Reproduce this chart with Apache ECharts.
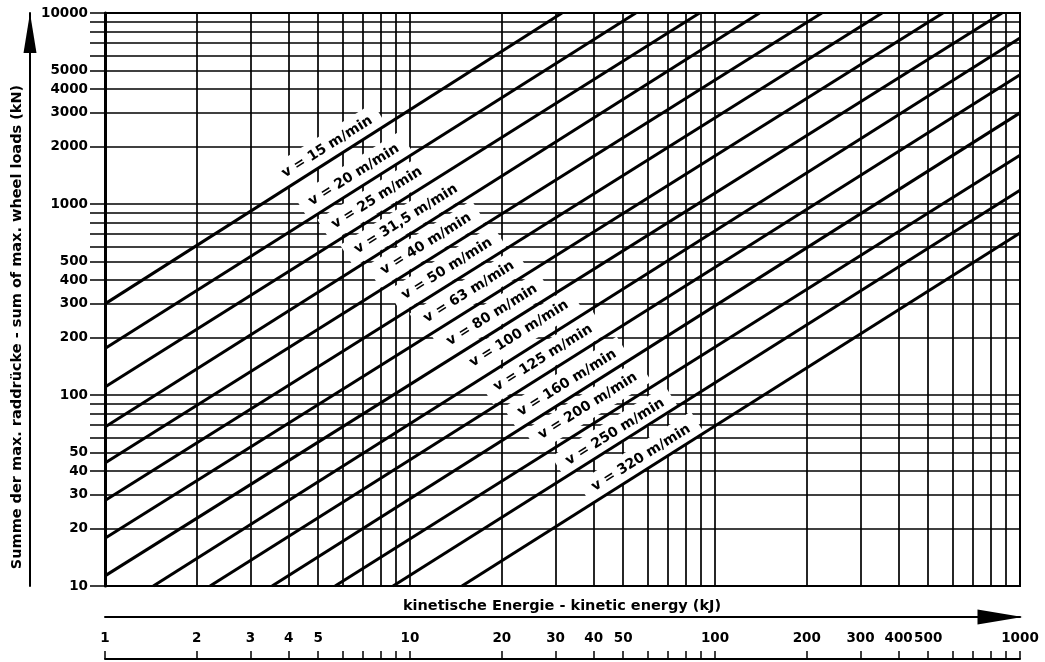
<!DOCTYPE html>
<html>
<head>
<meta charset="utf-8">
<script src="https://cdn.jsdelivr.net/npm/echarts@6/dist/echarts.min.js"></script>
<style>
html,body{margin:0;padding:0;background:#fff;}
#chart{width:1045px;height:662px;}
</style>
</head>
<body>
<div id="chart"></div>
<script>
// ---- data ----
const xGrid = [1,2,3,4,5,6,7,8,9,10,20,30,40,50,60,70,80,90,100,200,300,400,500,600,700,800,900,1000];
const xLabels = [1,2,3,4,5,10,20,30,40,50,100,200,300,400,500,1000];
const yGrid = [10,20,30,40,50,60,70,80,90,100,200,300,400,500,600,700,800,900,1000,2000,3000,4000,5000,6000,7000,8000,9000,10000];
const yLabels = [10,20,30,40,50,100,200,300,400,500,1000,2000,3000,4000,5000,10000];
const speeds = ['15','20','25','31,5','40','50','63','80','100','125','160','200','250','320'];
const lineStart = [[1,300],[1,175],[1,110],[1,68],[1,44],[1,28],[1,17.8],[1,11.3],[1.44,10],[2.21,10],[3.53,10],[5.68,10],[8.8,10],[14.8,10]];
const lineEnd = [[31.5,10000],[55,10000],[89,10000],[140,10000],[224,10000],[353,10000],[559,10000],[873,10000],[1000,7400],[1000,4750],[1000,3000],[1000,1800],[1000,1180],[1000,705]];
const labelAt = [[5.35,1988],[6.55,1418],[7.79,1075],[9.70,834],[11.28,617],[13.22,457],[15.61,346],[18.57,262],[22.78,209],[27.3,156],[32.7,115.6],[38.3,87.6],[47.0,64.0],[57.2,46.8]];
const xTitle = 'kinetische Energie - kinetic energy (kJ)';
const yTitle = 'Summe der max. raddrücke - sum of max. wheel loads (kN)';

const FONT = 'DejaVu Sans';
const chart = echarts.init(document.getElementById('chart'));

const series = speeds.map((v, i) => ({
  type: 'line',
  name: 'v = ' + v + ' m/min',
  data: [lineStart[i], lineEnd[i]],
  showSymbol: false,
  symbol: 'none',
  lineStyle: {color: '#000', width: 3},
  z: 5,
  silent: true
}));
series.push({
  type: 'scatter',
  name: 'labels',
  data: labelAt.map((p, i) => ({value: p, name: 'v = ' + speeds[i] + ' m/min'})),
  symbolSize: 0,
  itemStyle: {opacity: 1},
  z: 3,
  silent: true,
  label: {
    show: true,
    position: 'inside',
    formatter: p => p.name,
    rotate: 32,
    color: '#000',
    opacity: 1,
    fontFamily: FONT,
    fontWeight: 'bold',
    fontSize: 14,
    backgroundColor: '#fff',
    padding: [6, 10]
  }
});

const option = {
  animation: false,
  backgroundColor: '#fff',
  grid: {left: 105, right: 25, top: 13, bottom: 76, show: true, borderColor: '#000', borderWidth: 2, backgroundColor: 'transparent'},
  xAxis: [{
    type: 'log', logBase: 10, min: 1, max: 1000,
    position: 'bottom', offset: 73,
    axisLine: {show: true, lineStyle: {color: '#000', width: 2}},
    axisTick: {show: true, inside: true, length: 8, lineStyle: {color: '#000', width: 1.5}, customValues: xGrid},
    axisLabel: {show: true, inside: true, margin: 14, customValues: xLabels, formatter: v => String(v),
      color: '#000', fontFamily: FONT, fontWeight: 'bold', fontSize: 13.5},
    splitLine: {show: true, lineStyle: {color: '#000', width: 1.7}},
    minorTick: {show: false}, minorSplitLine: {show: false}
  }, {
    type: 'log', logBase: 10, min: 1, max: 1000,
    position: 'bottom', offset: 31,
    axisLine: {show: true, symbol: ['none', 'triangle'], symbolSize: [15, 45], symbolOffset: [0, -20], lineStyle: {color: '#000', width: 2}},
    axisTick: {show: false}, axisLabel: {show: false}, splitLine: {show: false}
  }],
  yAxis: [{
    type: 'log', logBase: 10, min: 10, max: 10000,
    position: 'left',
    axisLine: {show: true, lineStyle: {color: '#000', width: 3}},
    axisTick: {show: true, inside: false, length: 15, lineStyle: {color: '#000', width: 1.5}, customValues: yGrid},
    axisLabel: {show: true, margin: 17, customValues: yLabels, formatter: v => String(v),
      color: '#000', fontFamily: FONT, fontWeight: 'bold', fontSize: 13.5},
    splitLine: {show: true, lineStyle: {color: '#000', width: 1.7}},
    minorTick: {show: false}, minorSplitLine: {show: false}
  }, {
    type: 'log', logBase: 10, min: 10, max: 10000,
    position: 'left', offset: 75,
    axisLine: {show: true, symbol: ['none', 'triangle'], symbolSize: [13, 40], symbolOffset: [0, -20], lineStyle: {color: '#000', width: 2}},
    axisTick: {show: false}, axisLabel: {show: false}, splitLine: {show: false}
  }],
  graphic: [{
    type: 'text', x: 562, y: 606, silent: true,
    style: {text: xTitle, fill: '#000', font: 'bold 14.5px "' + FONT + '"', align: 'center', verticalAlign: 'middle'}
  }, {
    type: 'text', x: 17, y: 327, rotation: Math.PI / 2, silent: true,
    style: {text: yTitle, fill: '#000', font: 'bold 14.5px "' + FONT + '"', align: 'center', verticalAlign: 'middle'}
  }],
  series: series
};
chart.setOption(option);
</script>
</body>
</html>
